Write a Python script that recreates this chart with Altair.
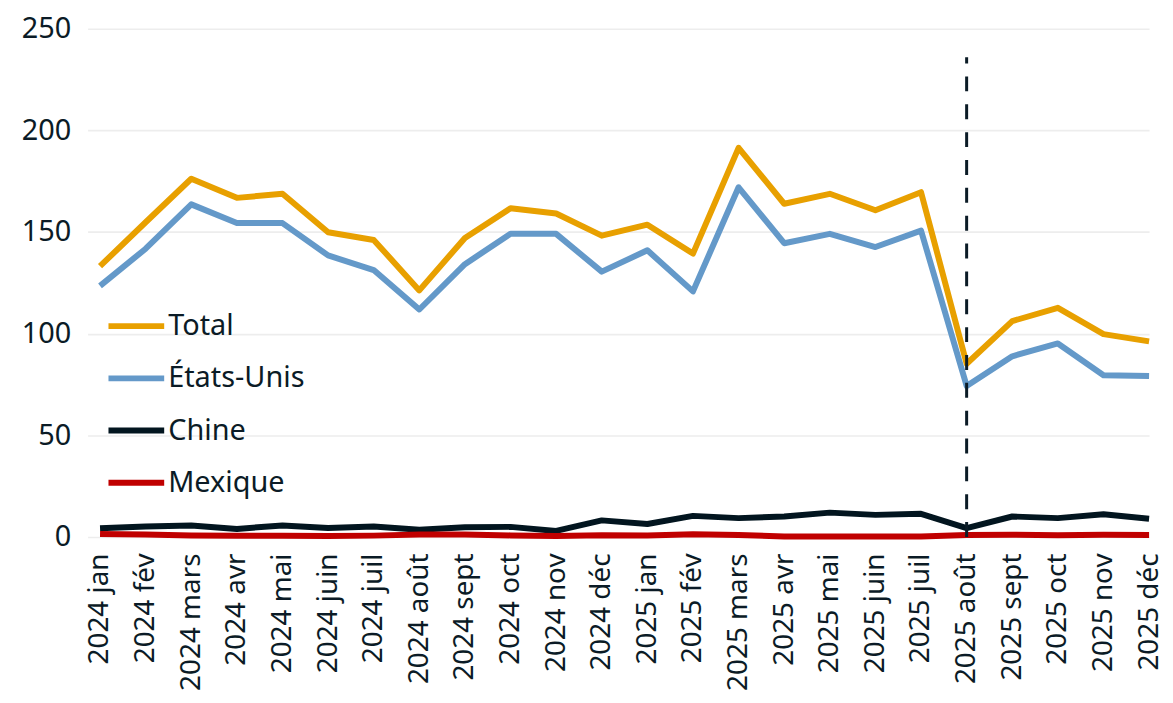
import json
import altair as alt
import pandas as pd

months = ["2024 jan", "2024 fév", "2024 mars", "2024 avr", "2024 mai", "2024 juin",
          "2024 juil", "2024 août", "2024 sept", "2024 oct", "2024 nov", "2024 déc",
          "2025 jan", "2025 fév", "2025 mars", "2025 avr", "2025 mai", "2025 juin",
          "2025 juil", "2025 août", "2025 sept", "2025 oct", "2025 nov", "2025 déc"]

total = [133.2, 154.8, 176.2, 166.8, 168.8, 149.9, 146.1, 121.3, 147.1, 161.7, 159.1, 148.2,
         153.6, 139.4, 191.4, 163.9, 168.8, 160.7, 169.6, 85.2, 106.2, 112.7, 99.8, 96.2]
etats_unis = [123.5, 141.8, 163.6, 154.4, 154.4, 138.5, 131.3, 111.9, 134.2, 149.1, 149.1, 130.5,
              141.0, 120.8, 172.0, 144.5, 149.1, 142.6, 150.7, 74.3, 88.9, 95.2, 79.6, 79.2]
chine = [4.3, 5.2, 5.7, 4.0, 5.7, 4.4, 5.2, 3.6, 4.8, 5.0, 3.0, 8.2,
         6.4, 10.4, 9.3, 10.1, 12.0, 10.9, 11.4, 4.4, 10.1, 9.3, 11.2, 9.0]
mexique = [1.5, 1.2, 0.8, 0.6, 0.6, 0.5, 0.7, 1.2, 1.3, 0.8, 0.5, 0.9,
           0.8, 1.4, 1.0, 0.3, 0.3, 0.3, 0.3, 1.0, 1.1, 0.9, 1.1, 1.0]

series_names = ["Total", "États-Unis", "Chine", "Mexique"]
series_colors = ["#E8A000", "#6499C9", "#02151F", "#C00000"]
y_ticks = [0, 50, 100, 150, 200, 250]

marker_index = [19]
marker_bottom = [0]
marker_top = [236]

DARK = "#0B1B26"
FONT = "Noto Sans"

rows = []
for name, vals in zip(series_names, [total, etats_unis, chine, mexique]):
    for i, v in enumerate(vals):
        rows.append({"idx": i, "serie": name, "valeur": v})
df = pd.DataFrame(rows)

label_expr = json.dumps(months, ensure_ascii=False) + "[datum.value]"

x_enc = alt.X(
    "idx:Q",
    scale=alt.Scale(domain=[-0.273, 23], nice=False, zero=False),
    axis=alt.Axis(
        values=list(range(len(months))),
        labelExpr=label_expr,
        labelAngle=-90,
        labelAlign="right",
        labelBaseline="middle",
        labelPadding=16,
        labelFontSize=28,
        labelColor=DARK,
        labelFont=FONT,
        labelFlush=False,
        labelOverlap=False,
        ticks=False,
        domain=False,
        grid=False,
        title=None,
    ),
)

y_enc = alt.Y(
    "valeur:Q",
    scale=alt.Scale(domain=[0, 250], nice=False),
    axis=alt.Axis(
        values=y_ticks,
        labelPadding=17,
        labelFontSize=29,
        labelColor=DARK,
        labelFont=FONT,
        labelFlush=False,
        ticks=False,
        domain=False,
        grid=True,
        gridColor="#EDEDED",
        gridWidth=1.6,
        title=None,
    ),
)

lines = alt.Chart(df).mark_line(strokeWidth=6, strokeJoin="round").encode(
    x=x_enc,
    y=y_enc,
    color=alt.Color(
        "serie:N",
        scale=alt.Scale(domain=series_names, range=series_colors),
        sort=series_names,
        legend=alt.Legend(
            orient="none",
            legendX=18,
            legendY=282,
            title=None,
            symbolType="M-1,0H3",
            symbolSize=784,
            symbolStrokeWidth=6,
            labelFontSize=29,
            labelFont=FONT,
            labelColor=DARK,
            labelOffset=29,
            rowPadding=20.5,
            padding=0,
        ),
    ),
    detail="serie:N",
)

rule_df = pd.DataFrame({"idx": marker_index, "valeur": marker_bottom, "haut": marker_top})
rule = alt.Chart(rule_df).mark_rule(strokeDash=[15, 13], strokeWidth=3, color=DARK).encode(
    x=alt.X("idx:Q"),
    y=alt.Y("valeur:Q"),
    y2=alt.Y2("haut:Q"),
)

chart = (
    alt.layer(lines, rule)
    .properties(
        width=1067,
        height=511,
        autosize=alt.AutoSizeParams(type="none"),
        padding={"left": 80, "top": 19, "right": 16, "bottom": 157},
    )
    .configure(font=FONT)
    .configure_view(stroke=None)
)

chart.save("out.html", embed_options={"renderer": "svg", "actions": False})
